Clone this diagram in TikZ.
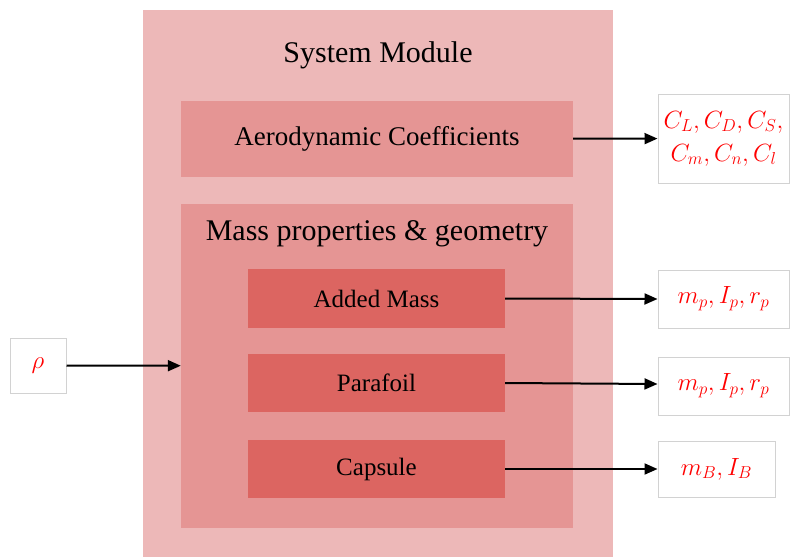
\documentclass[tikz,border=0pt]{standalone}
\usepackage{fontspec}
\setmainfont{Liberation Serif}
\usetikzlibrary{arrows.meta}

\definecolor{sysfill}{HTML}{EDB8B8}
\definecolor{subfill}{HTML}{E59594}
\definecolor{partfill}{HTML}{DC6561}
\definecolor{outline}{HTML}{D2D2D2}

\begin{document}
\begin{tikzpicture}[
    x=1pt, y=-1pt,
    block/.style={rectangle, draw=none, inner sep=0pt, align=center},
    sysbox/.style={block, fill=sysfill},
    subbox/.style={block, fill=subfill, font=\fontsize{27}{31}\selectfont},
    partbox/.style={block, fill=partfill, minimum width=257, font=\fontsize{25}{29}\selectfont},
    outbox/.style={rectangle, draw=outline, line width=1pt, fill=white, inner sep=0pt, align=center,
        text=red, font=\fontsize{26}{33}\selectfont},
    arrow/.style={-{Triangle[length=13pt,width=11pt]}, line width=2pt}
]
    \useasboundingbox (0,0) rectangle (790,557);

    % System module
    \node[sysbox, minimum width=470, minimum height=547] (system) at (378,283.5) {};
    \node[font=\fontsize{30}{34}\selectfont] (systitle) at (378,55) {System Module};

    \node[subbox, minimum width=392, minimum height=76] (aero) at (377,139) {Aerodynamic Coefficients};

    % Mass properties block
    \node[subbox, minimum width=392, minimum height=324] (mass) at (377,366) {};
    \node[font=\fontsize{30}{34}\selectfont] (masstitle) at (377,234) {Mass properties \& geometry};

    \node[partbox, minimum height=59] (added) at (376.5,298.5) {Added Mass};
    \node[partbox, minimum height=58] (parafoil) at (376.5,383) {Parafoil};
    \node[partbox, minimum height=58] (capsule) at (376.5,469) {Capsule};

    % Inputs and outputs
    \node[outbox, minimum width=56, minimum height=55] (rho) at (38,365.5) {$\rho$};
    \node[outbox, minimum width=131, minimum height=89] (coeffs) at (723.5,138.5)
        {$C_L, C_D, C_S,$\\$C_m, C_n, C_l$};
    \node[outbox, minimum width=131, minimum height=58] (addedout) at (723.5,299) {$m_p, I_p, r_p$};
    \node[outbox, minimum width=131, minimum height=58] (paraout) at (723.5,386) {$m_p, I_p, r_p$};
    \node[outbox, minimum width=117, minimum height=56] (capsout) at (716.5,469) {$m_B, I_B$};

    \draw[arrow] (rho) -- (mass);
    \draw[arrow] (aero) -- (coeffs);
    \draw[arrow] (added.east) -- (addedout.west);
    \draw[arrow] (parafoil.east) -- ([yshift=2]paraout.west);
    \draw[arrow] (capsule) -- (capsout);
\end{tikzpicture}
\end{document}
